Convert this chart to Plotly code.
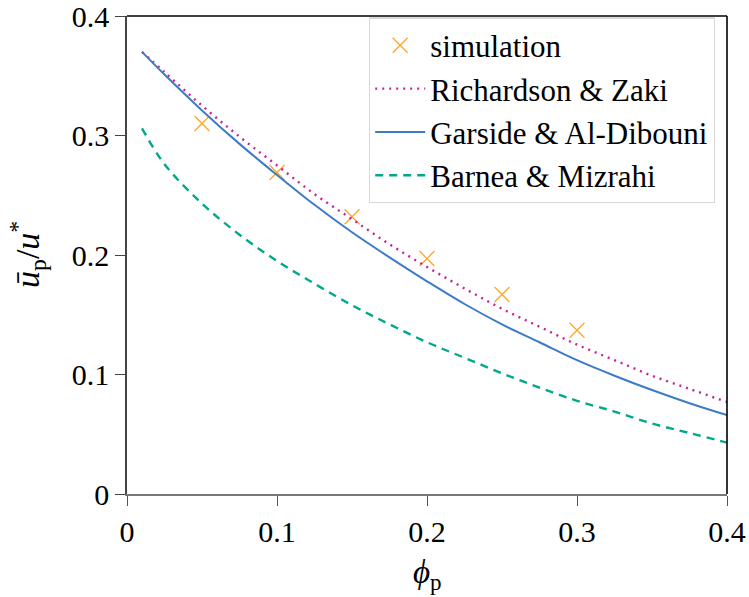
import plotly.graph_objects as go

# ---- data ----
sim_phi = [0.05, 0.10, 0.15, 0.20, 0.25, 0.30]
sim_u = [0.310, 0.269, 0.232, 0.197, 0.167, 0.137]

model_phi = [0.01, 0.025, 0.05, 0.075, 0.10, 0.125, 0.15, 0.175, 0.20, 0.225,
             0.25, 0.275, 0.30, 0.325, 0.35, 0.375, 0.40]
rz_u = [0.370, 0.353, 0.325, 0.299, 0.275, 0.251, 0.230, 0.209, 0.190, 0.172,
        0.155, 0.140, 0.125, 0.112, 0.099, 0.088, 0.077]
gad_u = [0.370, 0.351, 0.321, 0.293, 0.267, 0.242, 0.219, 0.198, 0.178, 0.159,
         0.142, 0.127, 0.112, 0.099, 0.087, 0.076, 0.066]
bm_u = [0.306, 0.276, 0.243, 0.217, 0.195, 0.176, 0.158, 0.142, 0.127, 0.114,
        0.101, 0.089, 0.078, 0.069, 0.059, 0.051, 0.043]

tick_vals = [0, 0.1, 0.2, 0.3, 0.4]
tick_text = ["0", "0.1", "0.2", "0.3", "0.4"]

FONT = "Liberation Serif"

fig = go.Figure()
fig.add_trace(go.Scatter(x=sim_phi, y=sim_u, mode="markers", name="simulation",
                         marker=dict(symbol="x-thin", size=15, color="#FFA726",
                                     line=dict(width=1.3, color="#FFA726"))))
fig.add_trace(go.Scatter(x=model_phi, y=rz_u, mode="lines", name="Richardson &amp; Zaki",
                         line=dict(color="#C8219A", width=2.4, dash="2px,5px", shape="spline")))
fig.add_trace(go.Scatter(x=model_phi, y=gad_u, mode="lines", name="Garside &amp; Al-Dibouni",
                         line=dict(color="#3C7BC8", width=2, shape="spline")))
fig.add_trace(go.Scatter(x=model_phi, y=bm_u, mode="lines", name="Barnea &amp; Mizrahi",
                         line=dict(color="#00A88C", width=2.4, dash="8px,6px", shape="spline")))

axis_common = dict(range=[0, 0.4], tickvals=tick_vals, ticktext=tick_text,
                   ticks="outside", ticklen=10, tickwidth=1.3, showgrid=False,
                   zeroline=False, showline=True, linewidth=1.6, automargin=False,
                   ticklabeloverflow="allow",
                   tickfont=dict(family=FONT, size=30, color="black"))

fig.update_xaxes(**axis_common, linecolor="#777777", tickcolor="#555555")
fig.update_yaxes(**axis_common, linecolor="#444444", tickcolor="#444444")

fig.update_layout(
    width=749, height=597,
    margin=dict(l=127, r=22, t=16, b=103, autoexpand=False),
    plot_bgcolor="white", paper_bgcolor="white",
    font=dict(family=FONT, size=30, color="black"),
    legend=dict(x=0.98, y=0.997, xanchor="right", yanchor="top",
                bgcolor="white", bordercolor="#d9d9d9", borderwidth=1.2,
                font=dict(family=FONT, size=31, color="black"),
                itemwidth=50, tracegroupgap=0),
    shapes=[
        dict(type="line", xref="paper", yref="paper", x0=0, x1=1, y0=1, y1=1,
             line=dict(color="black", width=1.6)),
        dict(type="line", xref="paper", yref="paper", x0=1, x1=1, y0=1, y1=0,
             line=dict(color="black", width=1.6)),
    ],
    annotations=[
        dict(text="<i>ϕ</i><sub>p</sub>", xref="paper", yref="paper", x=0.5, y=0,
             yanchor="middle", yshift=-80, showarrow=False,
             font=dict(family=FONT, size=33)),
        dict(text="<i>ū</i><sub>p</sub>/<i>u</i><sup>*</sup>", xref="paper", yref="paper",
             x=0, y=0.5, xanchor="center", yanchor="middle", xshift=-100,
             textangle=-90, showarrow=False, font=dict(family=FONT, size=34)),
    ],
)

fig.write_html("out.html")
